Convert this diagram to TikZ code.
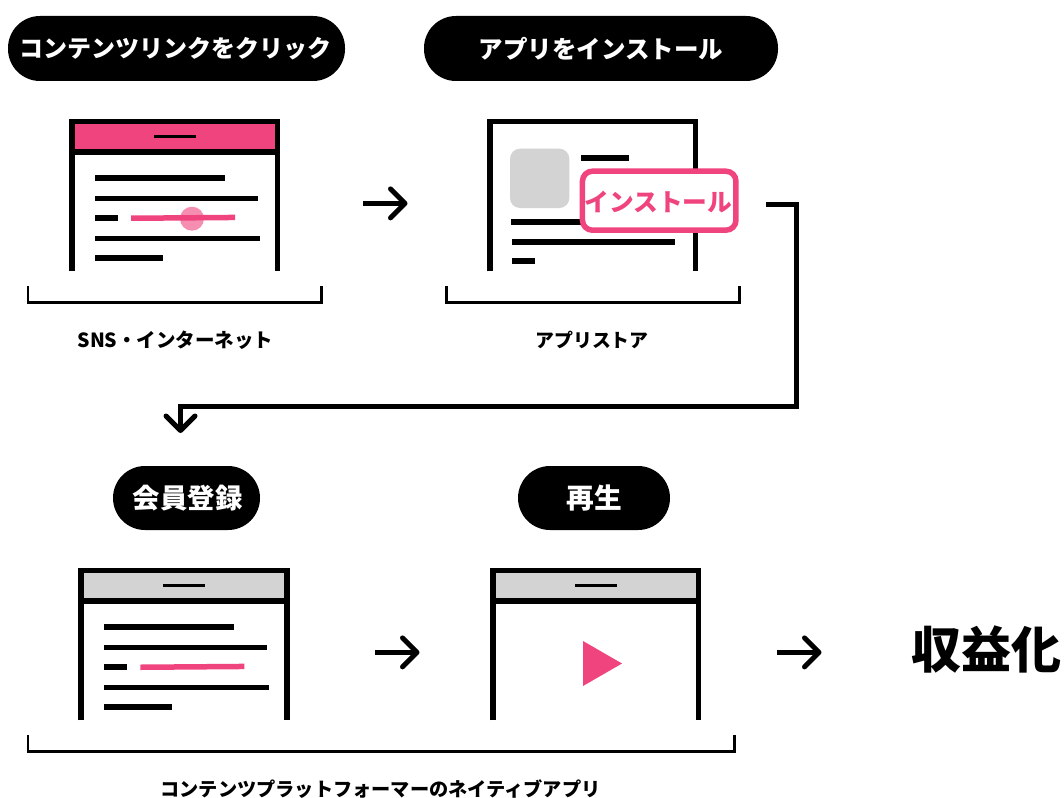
\documentclass[tikz,border=0pt]{standalone}
\usepackage{fontspec}
\setmainfont{Noto Sans CJK JP}
\usetikzlibrary{arrows.meta}
\definecolor{brandpink}{HTML}{F0447F}
\definecolor{panelgrey}{HTML}{D3D3D3}
\tikzset{
  pill/.style={fill=black,text=white,rounded corners=32pt,inner sep=0pt,font=\bfseries\fontsize{#1}{#1}\selectfont},
  caption/.style={inner sep=0pt,font=\bfseries\fontsize{#1}{#1}\selectfont},
  flow/.style={line width=5pt,-{Straight Barb[length=14.5pt,width=29pt,line width=5pt,round=false]}},
  framepath/.style={line width=5.5pt,line cap=butt,miter limit=10},
  bracketline/.style={line width=2.7pt},
}
\newcommand{\barrect}[5][black]{\fill[#1] (#2,#3) rectangle (#4,#5);}
\newcommand{\browser}[3]{%
\begin{scope}[shift={(#1,#2)}]
  \fill[#3] (72,122) rectangle (277,152);
  \draw[framepath] (71.8,271.3) -- (71.8,121.7) -- (277.5,121.7) -- (277.5,271.3);
  \draw[framepath] (69,152) -- (280,152);
  \barrect{154}{135}{196}{138}
\end{scope}}
\newcommand{\textlines}[3]{%
\begin{scope}[shift={(#1,#2)}]
  \barrect{95}{175}{225}{181}
  \barrect{95}{196}{258}{201.3}
  \barrect{95}{215}{118}{221}
  \fill[#3] (131,215.5) -- (235,214.7) -- (235,220.2) -- (131,221) -- cycle;
  \barrect{95}{235.5}{259.5}{240.7}
  \barrect{95}{255}{163}{261}
\end{scope}}
\begin{document}
\begin{tikzpicture}[x=1pt,y=-1pt]
\useasboundingbox (0,0) rectangle (1064,797);
\fill[white] (0,0) rectangle (1064,797);

% pills
\node[pill=24,minimum width=337pt,minimum height=65pt] (p1) at (176.5,48.5) {};
\node[inner sep=0pt,text=white,font=\bfseries\fontsize{24}{24}\selectfont] (p1text) at (175.3,48.5) {コンテンツリンクをクリック};
\node[pill=24.5,minimum width=354pt,minimum height=65pt] (p2) at (601,48.5) {アプリをインストール};
\node[pill=27.4,minimum width=147pt,minimum height=64pt] (p3) at (186.5,498) {};
\node[inner sep=0pt,text=white,font=\bfseries\fontsize{27.4}{27.4}\selectfont] (p3text) at (187.7,498) {会員登録};
\node[pill=27.7,minimum width=152pt,minimum height=64pt] (p4) at (594,498) {再生};

% top-left browser
\browser{0}{0}{brandpink}
\textlines{0}{0}{brandpink}
\fill[brandpink,opacity=.6] (192,218.7) circle (12);

% store page
\draw[framepath] (490,271.3) -- (490,121.7) -- (695.7,121.7) -- (695.7,271.3);
\fill[panelgrey,rounded corners=10pt] (510,148.7) rectangle (569.3,208);
\barrect{581}{155}{629}{161}
\barrect{511}{219}{585}{225}
\barrect{511.5}{239}{675}{244.5}
\barrect{512}{258}{535}{264}
\node[draw=brandpink,fill=white,line width=5.5pt,rounded corners=10pt,minimum width=153.5pt,minimum height=59pt,inner sep=0pt] (install) at (659.2,200.7) {};
\node[inner sep=0pt,text=brandpink,font=\bfseries\fontsize{24.7}{24.7}\selectfont] (installtext) at (658.5,202) {インストール};

% lower browsers
\browser{9.4}{449}{panelgrey}
\textlines{9.4}{449}{brandpink}
\browser{421}{449}{panelgrey}
\fill[brandpink] (583,641) -- (622,663.5) -- (583,686) -- cycle;

% brackets
\draw[bracketline] (28,286) -- (28,302.4) -- (321.4,302.4) -- (321.4,286);
\draw[bracketline] (446.2,286) -- (446.2,302.4) -- (739.8,302.4) -- (739.8,286);
\draw[bracketline] (28,735.3) -- (28,751.2) -- (734.5,751.2) -- (734.5,735.3);

% captions
\node[caption=19.5] (c1) at (175.5,340) {SNS・インターネット};
\node[caption=18.9] (c2) at (592,340) {アプリストア};
\node[caption=19.2] (c3) at (380.5,789) {コンテンツプラットフォーマーのネイティブアプリ};

% result
\node[inner sep=0pt,font=\bfseries\fontsize{50}{50}\selectfont] (goal) at (986,649) {収益化};

% connectors
\coordinate (a1s) at (363,203.4); \coordinate (a1e) at (407.5,203.4);
\coordinate (a2s) at (375,652.4); \coordinate (a2e) at (419.5,652.4);
\coordinate (a3s) at (777,652.4); \coordinate (a3e) at (821.5,652.4);
\coordinate (ds) at (766,204.5); \coordinate (db1) at (796.3,204.5);
\coordinate (db2) at (796.3,406); \coordinate (db3) at (180.5,406);
\coordinate (de) at (180.5,433);
\draw[flow] (a1s) -- (a1e);
\draw[flow] (a2s) -- (a2e);
\draw[flow] (a3s) -- (a3e);
\draw[flow] (ds) -- (db1) -- (db2) -- (db3) -- (de);
\end{tikzpicture}
\end{document}
